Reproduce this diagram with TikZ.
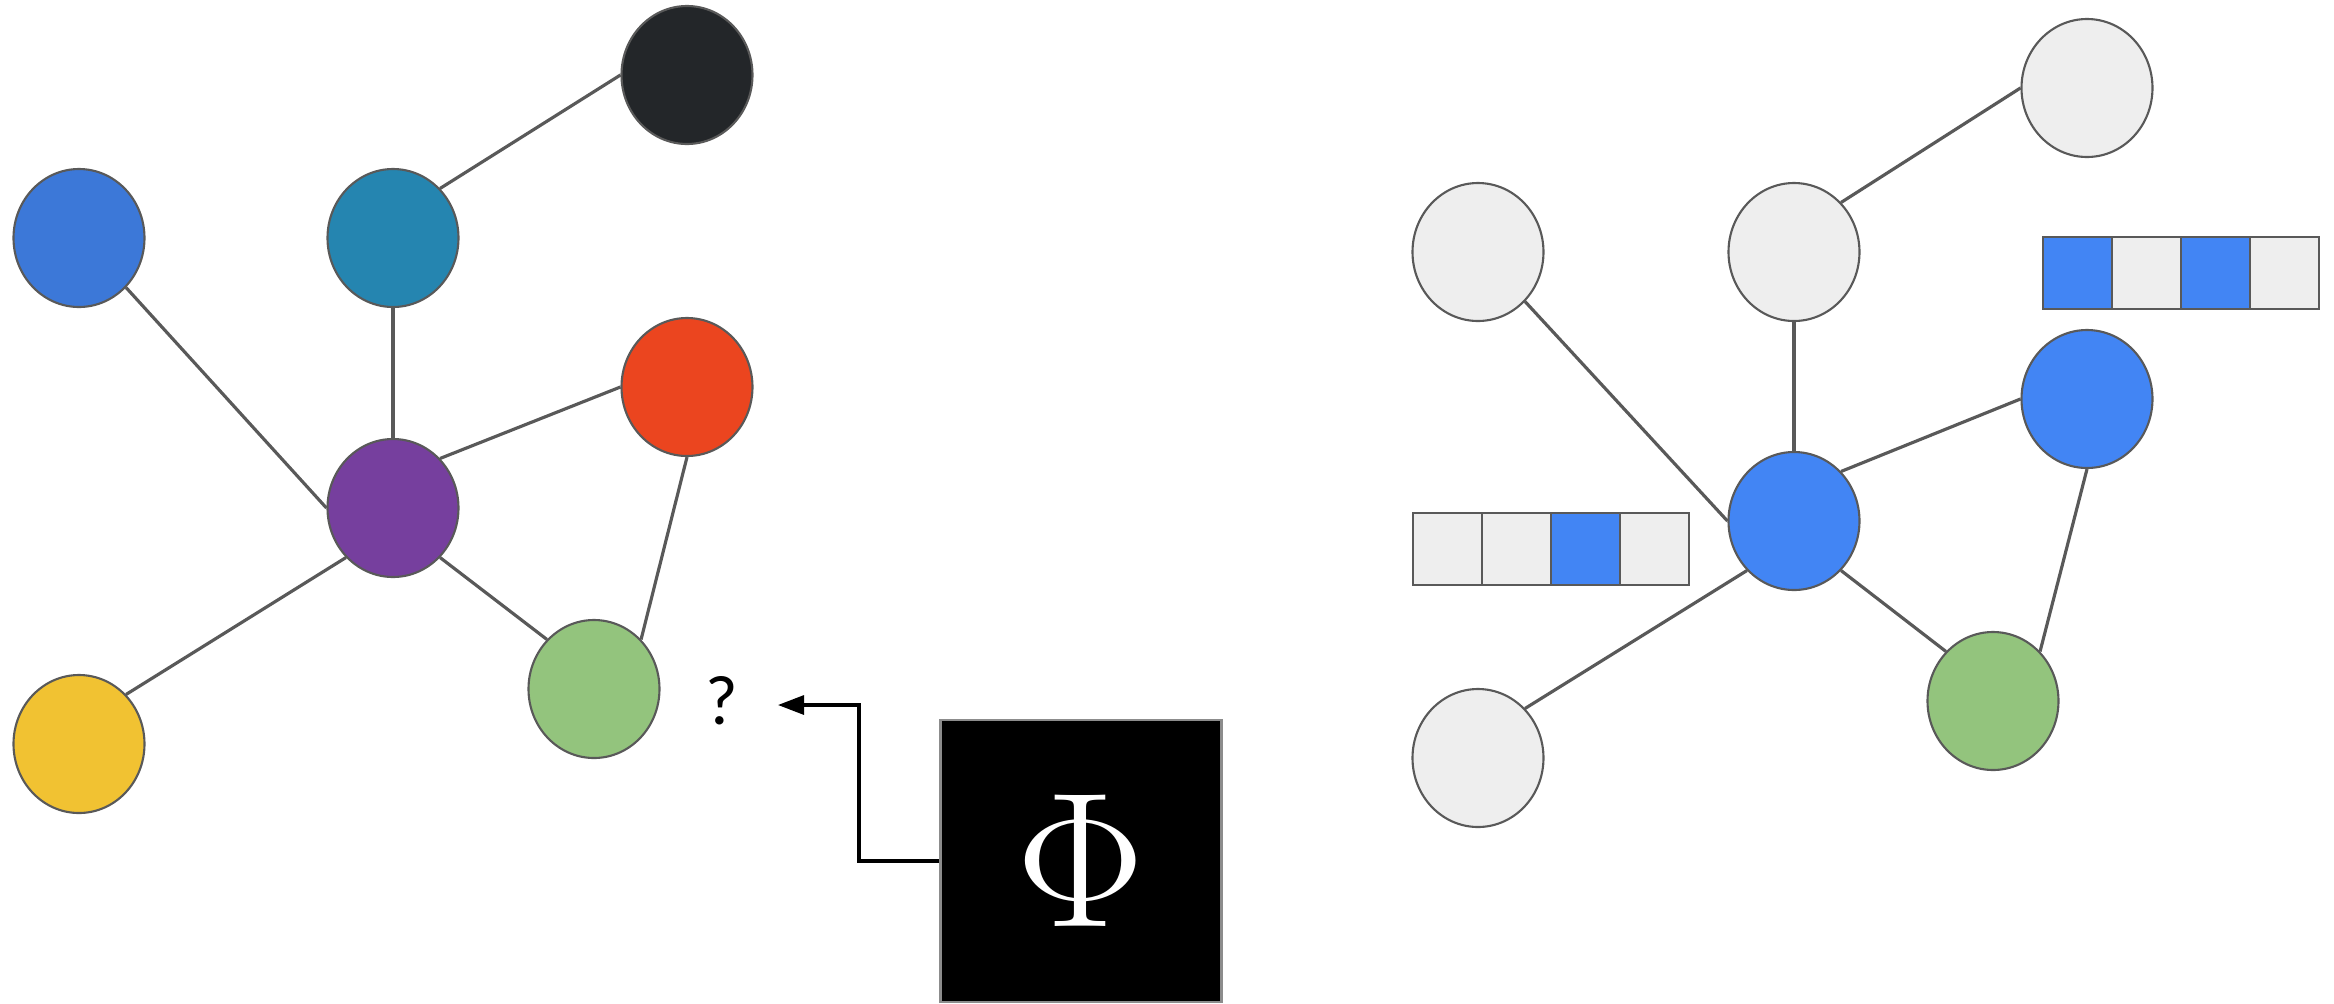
\documentclass[tikz,border=0pt]{standalone}
\usepackage{fontspec}
\usepackage{tikz}
\usetikzlibrary{
    positioning,                      % right=of, below=of, etc.
    arrows.meta,                      % puntas modernas (Triangle, Latex, etc.)
    shapes.geometric                  % ellipse
}
\newfontfamily\qmarkfont{Carlito}
\tikzset{
    vertex/.style={
        ellipse, draw=edge_gray, line width=0.6pt,
        minimum width=13.1mm, minimum height=13.8mm,
        inner sep=0pt
    },
    idle/.style={
        vertex, fill=node_gray
    },
    link/.style={
        draw=edge_gray, line width=0.9pt
    },
    cell/.style={
        rectangle, draw=edge_gray, line width=0.6pt,
        minimum width=6.9mm, minimum height=7.2mm,
        inner sep=0pt, outer sep=0pt, fill=node_gray
    },
    hot/.style={
        cell, fill=active_blue
    },
    phibox/.style={
        rectangle, draw=black!45, fill=black, line width=0.6pt,
        minimum width=28.1mm, minimum height=28.2mm,
        text=white, font=\fontsize{24.88}{25}\selectfont
    },
    arrow/.style={
        -{Triangle[length=2.6mm, width=1.9mm]}, line width=0.9pt
    }
}
\definecolor{edge_gray}{RGB}{89,89,89}
\definecolor{node_gray}{RGB}{238,238,238}
\definecolor{active_blue}{RGB}{66,133,244}
\definecolor{node_blue}{RGB}{60,120,216}
\definecolor{node_teal}{RGB}{37,133,176}
\definecolor{node_dark}{RGB}{35,38,41}
\definecolor{node_red}{RGB}{235,69,31}
\definecolor{node_purple}{RGB}{118,63,158}
\definecolor{node_green}{RGB}{147,196,125}
\definecolor{node_yellow}{RGB}{241,194,50}

\begin{document}
\begin{tikzpicture}
    \useasboundingbox (0,0) rectangle (23.34,-10.04);
    % grafo de entrada
    \node[vertex, fill=node_blue]   (ga) at (0.79,-2.38) {};
    \node[vertex, fill=node_teal]   (gb) at (3.93,-2.38) {};
    \node[vertex, fill=node_dark]   (gc) at (6.87,-0.75) {};
    \node[vertex, fill=node_red]    (gd) at (6.87,-3.87) {};
    \node[vertex, fill=node_purple] (ge) at (3.93,-5.08) {};
    \node[vertex, fill=node_green]  (gf) at (5.94,-6.89) {};
    \node[vertex, fill=node_yellow] (gg) at (0.79,-7.44) {};
    \draw[link] (gb.north east) -- (gc.west);
    \draw[link] (ga.south east) -- (ge.west);
    \draw[link] (gb.south) -- (ge.north);
    \draw[link] (ge.north east) -- (gd.west);
    \draw[link] (gd.south) -- (gf.north east);
    \draw[link] (ge.south east) -- (gf.north west);
    \draw[link] (ge.south west) -- (gg.north east);

    % funcion y pregunta
    \node[phibox] (phi) at (10.81,-8.61) {\scalebox{2.2}{$\Phi$}};
    \node[font=\qmarkfont\fontsize{20}{20}\selectfont] (qm) at (7.22,-7.01) {?};
    \coordinate (tip)  at (7.78,-7.05);
    \coordinate (bend) at (8.59,-7.05);
    \draw[arrow] (phi.west) -| (bend) -- (tip);

    % grafo con atributos
    \node[idle]                    (ha) at (14.78,-2.52) {};
    \node[idle]                    (hb) at (17.94,-2.52) {};
    \node[idle]                    (hc) at (20.87,-0.88) {};
    \node[vertex, fill=active_blue] (hd) at (20.87,-3.99) {};
    \node[vertex, fill=active_blue] (he) at (17.94,-5.21) {};
    \node[vertex, fill=node_green]  (hf) at (19.93,-7.01) {};
    \node[idle]                    (hg) at (14.78,-7.58) {};
    \draw[link] (hb.north east) -- (hc.west);
    \draw[link] (ha.south east) -- (he.west);
    \draw[link] (hb.south) -- (he.north);
    \draw[link] (he.north east) -- (hd.west);
    \draw[link] (hd.south) -- (hf.north east);
    \draw[link] (he.south east) -- (hf.north west);
    \draw[link] (he.south west) -- (hg.north east);

    % vectores de atributos
    \node[cell]                (va) at (14.475,-5.49) {};
    \node[cell, right=0mm of va] (vb) {};
    \node[hot,  right=0mm of vb] (vc) {};
    \node[cell, right=0mm of vc] (vd) {};
    \node[hot]                 (wa) at (20.775,-2.73) {};
    \node[cell, right=0mm of wa] (wb) {};
    \node[hot,  right=0mm of wb] (wc) {};
    \node[cell, right=0mm of wc] (wd) {};
\end{tikzpicture}
\end{document}
